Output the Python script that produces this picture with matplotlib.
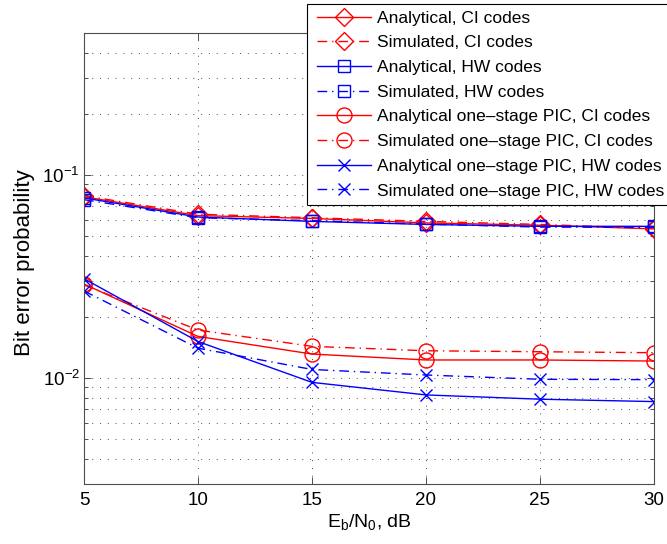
import matplotlib
matplotlib.use('Agg')
import matplotlib.pyplot as plt
from matplotlib.patches import Rectangle
from matplotlib.ticker import LogLocator, NullFormatter

plt.rcParams['font.family'] = ['Liberation Sans', 'DejaVu Sans']
plt.rcParams['mathtext.fontset'] = 'custom'
plt.rcParams['mathtext.rm'] = 'Liberation Sans'
plt.rcParams['mathtext.it'] = 'Liberation Sans:italic'
plt.rcParams['mathtext.bf'] = 'Liberation Sans:bold'

# ---------------- data ----------------
ebn0 = [5, 10, 15, 20, 25, 30]
ci_analytical = [0.078, 0.063, 0.061, 0.058, 0.0565, 0.0542]
ci_simulated = [0.079, 0.064, 0.0615, 0.059, 0.057, 0.0545]
hw_analytical = [0.077, 0.062, 0.059, 0.057, 0.0558, 0.0558]
hw_simulated = [0.0755, 0.0615, 0.0595, 0.0572, 0.0553, 0.0552]
pic_ci_analytical = [0.0290, 0.0160, 0.0131, 0.01225, 0.01225, 0.0121]
pic_ci_simulated = [0.0287, 0.0172, 0.0143, 0.0136, 0.01345, 0.0133]
pic_hw_analytical = [0.0308, 0.0151, 0.0095, 0.00824, 0.00785, 0.00764]
pic_hw_simulated = [0.0268, 0.0140, 0.0110, 0.01033, 0.00984, 0.0098]

labels = [
    'Analytical, CI codes',
    'Simulated, CI codes',
    'Analytical, HW codes',
    'Simulated, HW codes',
    'Analytical one\u2013stage PIC, CI codes',
    'Simulated one\u2013stage PIC, CI codes',
    'Analytical one\u2013stage PIC, HW codes',
    'Simulated one\u2013stage PIC, HW codes',
]
xticks = [5, 10, 15, 20, 25, 30]

series = [ci_analytical, ci_simulated, hw_analytical, hw_simulated,
          pic_ci_analytical, pic_ci_simulated, pic_hw_analytical, pic_hw_simulated]

RED = (1, 0, 0)
BLUE = (0, 0, 1)
DASHDOT = (0, (7, 3.5, 1, 3.5))
styles = [
    dict(color=RED, ls='-', marker='D', ms=8.8),
    dict(color=RED, ls=DASHDOT, marker='D', ms=8.8),
    dict(color=BLUE, ls='-', marker='s', ms=8.0),
    dict(color=BLUE, ls=DASHDOT, marker='s', ms=8.0),
    dict(color=RED, ls='-', marker='o', ms=10.8),
    dict(color=RED, ls=DASHDOT, marker='o', ms=10.8),
    dict(color=BLUE, ls='-', marker='x', ms=8.0),
    dict(color=BLUE, ls=DASHDOT, marker='x', ms=8.0),
]

W, H = 667, 544
fig = plt.figure(figsize=(W / 100, H / 100), dpi=100)
ax = fig.add_axes([84 / W, 60 / H, 570 / W, 451 / H])

handles = []
for vals, st, lab in zip(series, styles, labels):
    h, = ax.plot(ebn0, vals, color=st['color'], linestyle=st['ls'], linewidth=1.0,
                 marker=st['marker'], markersize=st['ms'], markerfacecolor='none',
                 markeredgecolor=st['color'], markeredgewidth=1.0, label=lab)
    handles.append(h)

ax.set_yscale('log')
ax.set_xlim(5, 30)
ax.set_ylim(0.003, 0.5)
ax.set_xticks(xticks)
ax.set_xticklabels([str(t) for t in xticks])
ax.yaxis.set_major_locator(LogLocator(base=10))
ax.yaxis.set_minor_locator(LogLocator(base=10, subs=range(2, 10)))
ax.yaxis.set_minor_formatter(NullFormatter())

grid_kw = dict(color='0.3', linestyle=(0, (1, 7)), linewidth=0.7)
ax.grid(True, which='major', axis='x', **grid_kw)
ax.grid(True, which='both', axis='y', **grid_kw)
ax.set_axisbelow(True)

for s in ax.spines.values():
    s.set_color('0.3')
    s.set_linewidth(0.8)

ax.tick_params(which='both', direction='in', top=True, right=True, color='0.3',
               labelcolor='black', labelsize=13.5, width=0.7)
ax.tick_params(which='major', length=5)
ax.tick_params(which='minor', length=2.8)
ax.tick_params(axis='x', pad=6)
ax.tick_params(axis='y', pad=3)

ax.set_xlabel(r'E$_{\mathregular{b}}$/N$_{\mathregular{0}}$, dB', fontsize=14)
ax.xaxis.set_label_coords(0.5, -(522 - 484) / 451)
ax.xaxis.label.set_va('center')
ax.set_ylabel('Bit error probability', fontsize=16)
ax.yaxis.set_label_coords((25 - 84) / 570, 0.49)
ax.yaxis.label.set_va('center')

# legend frame (extends past the figure edge as in the reference)
frame = Rectangle((307 / W, (H - 205) / H), (700 - 307) / W, 201 / H,
                  transform=fig.transFigure, facecolor='white', edgecolor='black',
                  linewidth=0.8, zorder=4)
fig.add_artist(frame)
leg = fig.legend(handles, labels, loc='upper left', bbox_to_anchor=(317 / W, 1 - 10.5 / H),
                 bbox_transform=fig.transFigure, frameon=False, fontsize=12.5,
                 handlelength=3.1, handletextpad=0.35, labelspacing=0.55,
                 borderpad=0, borderaxespad=0)
leg.set_zorder(5)

fig.savefig('out.png', dpi=100)
